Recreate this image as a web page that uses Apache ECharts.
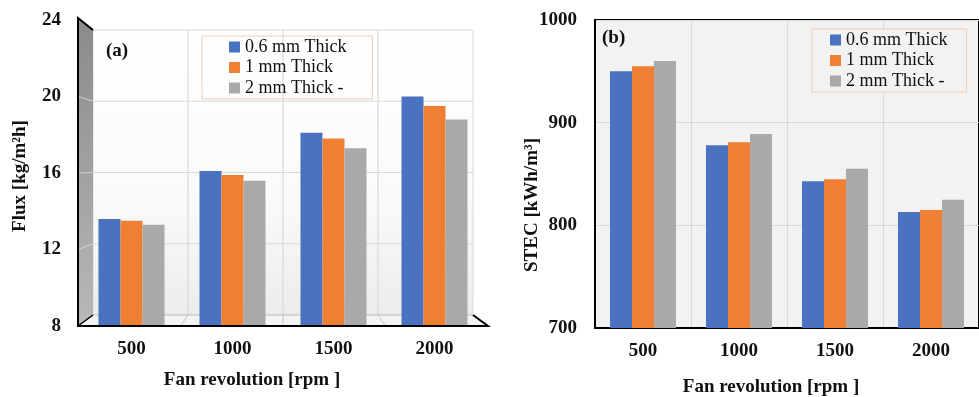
<!DOCTYPE html>
<html><head><meta charset="utf-8">
<script src="https://cdn.jsdelivr.net/npm/echarts@6/dist/echarts.min.js"></script>
<style>html,body{margin:0;padding:0;background:#fff}#c{width:979px;height:397px}</style>
</head><body><div id="c"></div>
<script>
// ---- data ----
const categories = ['500', '1000', '1500', '2000'];
const seriesNames = ['0.6 mm Thick', '1 mm Thick', '2 mm Thick -'];
const fluxThin = [13.6, 16.1, 18.1, 20.0];
const fluxMid = [13.5, 15.9, 17.8, 19.5];
const fluxThick = [13.3, 15.6, 17.3, 18.8];
const stecThin = [950, 878, 843, 813];
const stecMid = [955, 881, 845, 815];
const stecThick = [960, 889, 855, 825];
const fluxAxis = { min: 8, max: 24, interval: 4 };
const stecAxis = { min: 700, max: 1000, interval: 100 };
const fluxTicks = [8, 12, 16, 20, 24];

// ---- styles ----
const FONT = '"Liberation Serif", "Times New Roman", serif';
const blue = '#4a72c0', orange = '#ee7f33', gray = '#a9a9a9';
const colors = [blue, orange, gray];
const labelStyle = { fontFamily: FONT, fontSize: 19, fontWeight: 'bold', color: '#111' };

const chart = echarts.init(document.getElementById('c'));
const fluxData = [fluxThin, fluxMid, fluxThick];
const stecData = [stecThin, stecMid, stecThick];

const series = [];
fluxData.forEach((d, i) => series.push({
  name: seriesNames[i], type: 'bar', xAxisIndex: 0, yAxisIndex: 0, data: d,
  barWidth: 22, barGap: '0%', itemStyle: { color: colors[i] }, z: 5
}));
stecData.forEach((d, i) => series.push({
  name: seriesNames[i], type: 'bar', xAxisIndex: 1, yAxisIndex: 1, data: d,
  barWidth: 22, barGap: '0%', itemStyle: { color: colors[i] }, z: 5
}));

const legendCommon = {
  orient: 'vertical', icon: 'rect', itemWidth: 11, itemHeight: 11, itemGap: 2.5,
  borderColor: '#f8cbad', borderWidth: 1, selectedMode: false,
  textStyle: { fontFamily: FONT, fontSize: 18, color: '#111', lineHeight: 18 },
  data: seriesNames
};

chart.setOption({
  animation: false,
  backgroundColor: '#fff',
  legend: [
    Object.assign({}, legendCommon, { left: 202, top: 36, padding: [2, 26, 2, 27] }),
    Object.assign({}, legendCommon, { left: 812, top: 29, padding: [2, 19, 2, 18], backgroundColor: '#f2f2f2' })
  ],
  grid: [
    { left: 81, width: 404, top: 20, height: 306 },
    { left: 595, width: 392, top: 20, height: 308, show: true, backgroundColor: '#f2f2f2', borderColor: '#000', borderWidth: 2 }
  ],
  xAxis: [
    { type: 'category', gridIndex: 0, data: categories, axisLine: { show: false }, axisTick: { show: false },
      axisLabel: Object.assign({ margin: 14 }, labelStyle) },
    { type: 'category', gridIndex: 1, data: categories,
      axisLine: { lineStyle: { color: '#000', width: 2 } },
      axisTick: { inside: true, length: 5, lineStyle: { color: '#000', width: 1.5 } },
      splitLine: { show: true, lineStyle: { color: '#d9d9d9', width: 1 } },
      axisLabel: Object.assign({ margin: 14 }, labelStyle) }
  ],
  yAxis: [
    { type: 'value', gridIndex: 0, min: fluxAxis.min, max: fluxAxis.max, interval: fluxAxis.interval,
      axisLine: { show: false }, axisTick: { show: false }, splitLine: { show: false },
      axisLabel: Object.assign({ margin: 20, formatter: v => String(v) }, labelStyle) },
    { type: 'value', gridIndex: 1, min: stecAxis.min, max: stecAxis.max, interval: stecAxis.interval,
      axisLine: { show: true, lineStyle: { color: '#000', width: 2 } }, axisTick: { show: false },
      splitLine: { lineStyle: { color: '#d9d9d9', width: 1.2 } },
      axisLabel: Object.assign({ margin: 18, formatter: v => String(v) }, labelStyle) }
  ],
  series: series
});

// ---- 3D-style walls for panel (a), positioned from the axis scale ----
const yF = v => chart.convertToPixel({ yAxisIndex: 0 }, v);
const xCat = i => chart.convertToPixel({ xAxisIndex: 0 }, i);
const catW = xCat(1) - xCat(0);
const fL = xCat(0) - catW / 2 - 3, fR = xCat(categories.length - 1) + catW / 2 + 3;
const dX = 15, dY = 11;
const bL = fL + dX, bR = fR - dX;
const fBot = yF(fluxAxis.min), fTop = yF(fluxAxis.max) - 2;
const bBot = fBot - dY, bTop = fTop + 12;
const yB = v => bBot - (v - fluxAxis.min) / (fluxAxis.max - fluxAxis.min) * (bBot - bTop);
const g = [];
// back wall
g.push({ type: 'polygon', z: 0, shape: { points: [[bL, bTop], [bR, bTop], [bR, bBot], [bL, bBot]] },
  style: { fill: new echarts.graphic.LinearGradient(0, 0, 0, 1, [{ offset: 0, color: '#ffffff' }, { offset: 0.6, color: '#fafafa' }, { offset: 1, color: '#ececec' }]), stroke: '#d9d9d9', lineWidth: 1 } });
fluxTicks.slice(1, -1).forEach(v => g.push({ type: 'line', z: 1, shape: { x1: bL, y1: yB(v), x2: bR, y2: yB(v) }, style: { stroke: '#d9d9d9', lineWidth: 1.2 } }));
const nCat = categories.length;
for (let i = 1; i < nCat; i++) {
  const xb = bL + i * (bR - bL) / nCat;
  g.push({ type: 'line', z: 1, shape: { x1: xb, y1: bTop, x2: xb, y2: bBot }, style: { stroke: '#d9d9d9', lineWidth: 1.2 } });
}
// floor
g.push({ type: 'polygon', z: 1, shape: { points: [[fL, fBot], [fR, fBot], [bR, bBot], [bL, bBot]] },
  style: { fill: '#f3f3f3', stroke: '#bfbfbf', lineWidth: 1 } });
for (let i = 1; i < nCat; i++) {
  const xb = bL + i * (bR - bL) / nCat, xf = fL + i * (fR - fL) / nCat;
  g.push({ type: 'line', z: 1, shape: { x1: xb, y1: bBot, x2: xf, y2: fBot }, style: { stroke: '#c8c8c8', lineWidth: 1 } });
}
// left wall
g.push({ type: 'polygon', z: 1, shape: { points: [[fL, fTop], [bL, bTop], [bL, bBot], [fL, fBot]] },
  style: { fill: new echarts.graphic.LinearGradient(0, 0, 0, 1, [{ offset: 0, color: '#8a8a8a' }, { offset: 1, color: '#b8b8b8' }]) } });
fluxTicks.slice(1, -1).forEach(v => g.push({ type: 'line', z: 2, shape: { x1: fL, y1: yF(v), x2: bL, y2: yB(v) }, style: { stroke: '#d0d0d0', lineWidth: 1.2 } }));
// front edges
g.push({ type: 'polyline', z: 6, shape: { points: [[bL, bTop], [fL, fTop], [fL, fBot], [fR, fBot], [bR, bBot]] }, style: { stroke: '#000', lineWidth: 2, fill: null } });
g.push({ type: 'line', z: 6, shape: { x1: fL, y1: fBot, x2: bL, y2: bBot }, style: { stroke: '#000', lineWidth: 1.5 } });

// texts
const tf = 'bold 19px "Liberation Serif", "Times New Roman", serif';
g.push({ type: 'text', z: 10, x: 106, y: 51, style: { text: '(a)', font: tf, fill: '#111', verticalAlign: 'middle' } });
g.push({ type: 'text', z: 10, x: 602, y: 38, style: { text: '(b)', font: tf, fill: '#111', verticalAlign: 'middle' } });
g.push({ type: 'text', z: 10, x: 252, y: 380, style: { text: 'Fan revolution [rpm ]', font: tf, fill: '#111', align: 'center', verticalAlign: 'middle' } });
g.push({ type: 'text', z: 10, x: 771, y: 387, style: { text: 'Fan revolution [rpm ]', font: tf, fill: '#111', align: 'center', verticalAlign: 'middle' } });
g.push({ type: 'text', z: 10, x: 20, y: 176, rotation: Math.PI / 2, style: { text: 'Flux [kg/m²h]', font: tf, fill: '#111', align: 'center', verticalAlign: 'middle' } });
g.push({ type: 'text', z: 10, x: 532, y: 205, rotation: Math.PI / 2, style: { text: 'STEC [kWh/m³]', font: tf, fill: '#111', align: 'center', verticalAlign: 'middle' } });

chart.setOption({ graphic: g });
</script></body></html>
